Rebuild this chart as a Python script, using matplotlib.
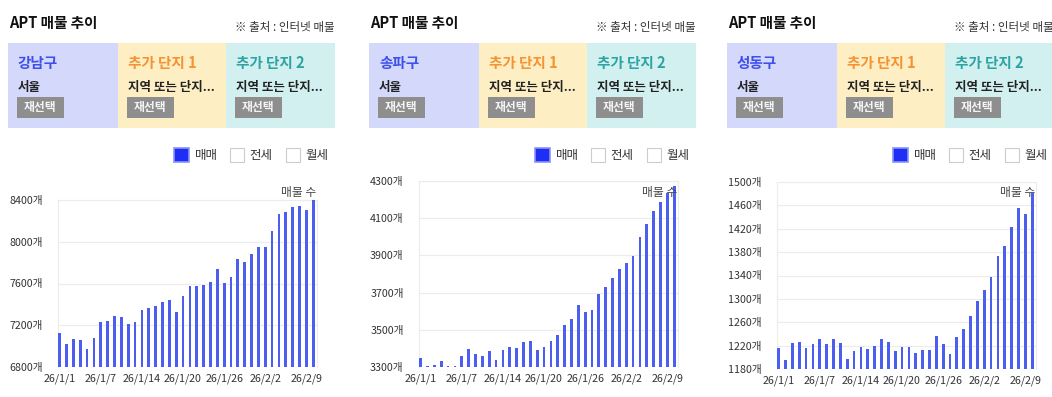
import matplotlib
matplotlib.use("Agg")
import matplotlib.pyplot as plt
from matplotlib.patches import Rectangle

plt.rcParams['font.family'] = ['Noto Sans CJK KR', 'DejaVu Sans']

W, H = 1052, 397

dates = ["26/1/1", "26/1/2", "26/1/3", "26/1/4", "26/1/5", "26/1/6", "26/1/7",
         "26/1/8", "26/1/9", "26/1/10", "26/1/11", "26/1/12", "26/1/14",
         "26/1/15", "26/1/16", "26/1/17", "26/1/18", "26/1/19", "26/1/20",
         "26/1/21", "26/1/22", "26/1/23", "26/1/24", "26/1/25", "26/1/26",
         "26/1/27", "26/1/28", "26/1/29", "26/1/30", "26/1/31", "26/2/2",
         "26/2/3", "26/2/4", "26/2/5", "26/2/6", "26/2/8", "26/2/9", "26/2/10"]

regions = ["강남구", "송파구", "성동구"]

gangnam = [7130, 7018, 7072, 7062, 6973, 7082, 7229, 7245, 7293, 7283,
           7210, 7235, 7347, 7366, 7386, 7418, 7446, 7328, 7485, 7574,
           7574, 7584, 7619, 7741, 7603, 7661, 7834, 7805, 7878, 7952,
           7952, 8099, 8262, 8282, 8336, 8346, 8307, 8400]

songpa = [3348, 3304, 3311, 3334, 3304, 3304, 3359, 3398, 3370, 3359,
          3386, 3339, 3389, 3405, 3400, 3436, 3441, 3389, 3405, 3441,
          3471, 3527, 3557, 3634, 3598, 3609, 3691, 3732, 3779, 3825,
          3859, 3895, 3998, 4068, 4139, 4186, 4234, 4273]

seongdong = [1216, 1195, 1224, 1227, 1216, 1222, 1231, 1222, 1231, 1224,
             1197, 1210, 1218, 1214, 1219, 1231, 1226, 1211, 1218, 1218,
             1208, 1213, 1213, 1237, 1222, 1205, 1235, 1248, 1270, 1296,
             1316, 1338, 1374, 1391, 1423, 1455, 1445, 1482]

yticks_list = [
    [6800, 7200, 7600, 8000, 8400],
    [3300, 3500, 3700, 3900, 4100, 4300],
    [1180, 1220, 1260, 1300, 1340, 1380, 1420, 1460, 1500],
]

series = [gangnam, songpa, seongdong]

# panel layout: origin x, clip left/right, chart top/bottom
origins = [8, 369, 727]
clips = [(0, 350), (352, 697), (712, 1052)]
chart_tops = [200, 181, 182]
chart_bots = [367, 367, 369]


def rect(x0, y0, x1, y1):
    return [x0 / W, 1 - y1 / H, (x1 - x0) / W, (y1 - y0) / H]


fig = plt.figure(figsize=(W / 100, H / 100), dpi=100)
fig.patch.set_facecolor("white")

for i in range(3):
    o = origins[i]
    cl, cr = clips[i]

    # header area drawn in pixel coordinates
    hx = fig.add_axes(rect(cl, 0, cr, 175))
    hx.set_xlim(cl, cr)
    hx.set_ylim(175, 0)
    hx.axis("off")

    hx.text(o + 1, 23, "APT 매물 추이", fontsize=10.5, fontweight="bold",
            color="#111111", va="center", ha="left", clip_on=True)
    hx.text(o + 227, 28, "※ 출처 : 인터넷 매물", fontsize=8.3,
            color="#333333", va="center", ha="left", clip_on=True,
            fontweight="medium")

    box_left = [o, o + 110, o + 218]
    box_w = [110, 108, 109]
    box_col = ["#d4d8fb", "#fdeec4", "#d2f0f0"]
    names = [regions[i], "추가 단지 1", "추가 단지 2"]
    name_col = ["#3d50ea", "#f59232", "#2ea3a3"]
    subs = ["서울", "지역 또는 단지...", "지역 또는 단지..."]
    for b in range(3):
        r = Rectangle((box_left[b], 43), box_w[b], 85, facecolor=box_col[b],
                      edgecolor="none", clip_on=True)
        hx.add_patch(r)
        hx.text(box_left[b] + 10, 63, names[b], fontsize=10.5,
                color=name_col[b], va="center", ha="left", clip_on=True,
                fontweight="bold")
        hx.text(box_left[b] + 10, 87, subs[b], fontsize=9,
                color="#222222", va="center", ha="left", clip_on=True,
                fontweight="bold")
        btn = Rectangle((box_left[b] + 9, 97), 47, 21, facecolor="#8e8e8e",
                        edgecolor="none", clip_on=True)
        hx.add_patch(btn)
        hx.text(box_left[b] + 32.5, 107.5, "재선택", fontsize=8.5,
                color="#f4f4f4", fontweight="bold", va="center", ha="center",
                clip_on=True)

    # legend checkboxes
    cb = Rectangle((o + 166, 148), 15, 14, facecolor="#1e2ef5",
                   edgecolor="#8a93f3", linewidth=1.2, clip_on=True)
    hx.add_patch(cb)
    hx.text(o + 187, 155, "매매", fontsize=9, color="#333333",
            va="center", ha="left", clip_on=True)
    for bx, lab in [(o + 222, "전세"), (o + 278, "월세")]:
        hx.add_patch(Rectangle((bx, 148), 14, 14, facecolor="white",
                               edgecolor="#cccccc", linewidth=0.8,
                               clip_on=True))
        hx.text(bx + 19, 155, lab, fontsize=9, color="#333333",
                va="center", ha="left", clip_on=True)

    # bar chart
    ax = fig.add_axes(rect(o + 50, chart_tops[i], o + 309, chart_bots[i]))
    yt = yticks_list[i]
    vals = series[i]
    xs = list(range(len(vals)))
    ax.bar(xs, [v - yt[0] for v in vals], bottom=yt[0], width=0.4,
           color="#4c5ef0", zorder=3)
    ax.set_xlim(-0.25, len(vals) - 0.45)
    ax.set_ylim(yt[0], yt[-1])
    ax.set_yticks(yt)
    ax.set_yticklabels([f"{t}개" for t in yt], fontsize=7.7, color="#333333")
    ax.set_xticks(xs[::6])
    ax.set_xticklabels(dates[::6], fontsize=7.7, color="#333333")
    ax.tick_params(length=0, pad=5)
    ax.tick_params(axis="y", pad=11)
    ax.grid(axis="y", color="#ececec", linewidth=0.8, zorder=0)
    for s in ax.spines.values():
        s.set_color("#ececec")
        s.set_linewidth(0.8)
    ax.spines["bottom"].set_visible(False)

    fig.text((o + 308) / W, 1 - 192 / H, "매물 수", fontsize=8.5,
             color="#444444", ha="right", va="center")

fig.savefig("out.png", dpi=100)
